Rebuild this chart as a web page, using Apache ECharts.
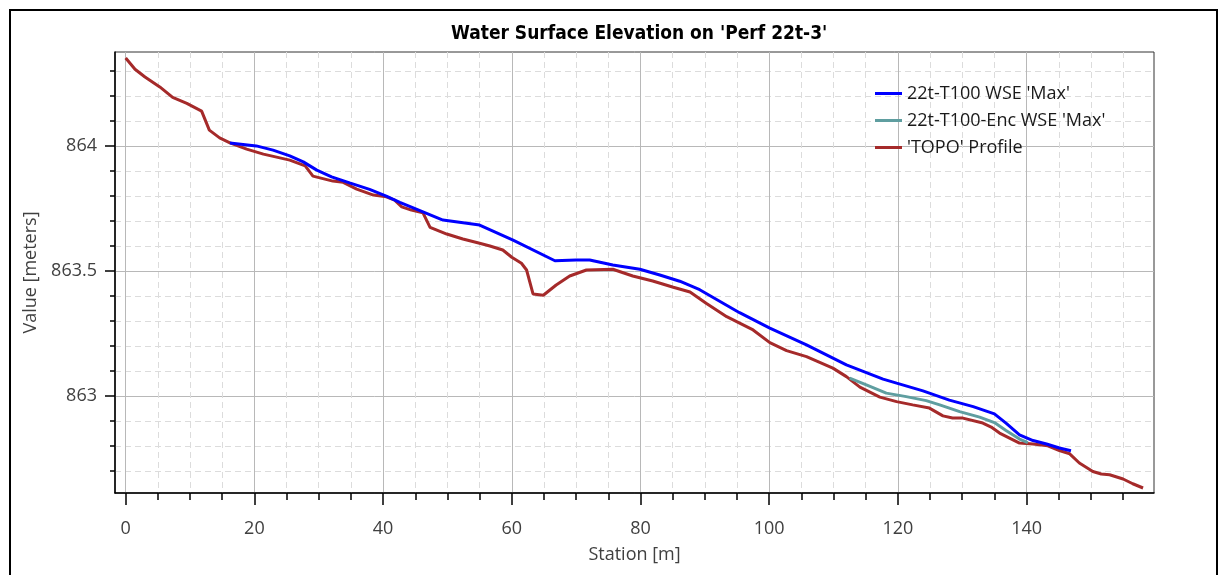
<!DOCTYPE html>
<html>
<head>
<meta charset="utf-8">
<script src="https://cdn.jsdelivr.net/npm/echarts@6/dist/echarts.min.js"></script>
<style>
html,body{margin:0;padding:0;background:#fff;}
#chart{width:1222px;height:575px;}
</style>
</head>
<body>
<div id="chart"></div>
<script>
// ---- Data ----
const topoStation = [0, 1.45, 3.0, 5.3, 7.3, 9.5, 11.8, 13.0, 14.6, 16.2, 18.8, 21.4, 25.5, 27.9, 29.1, 32.2, 33.8, 35.9, 38.5, 40.5, 41.8, 42.9, 44.4, 46.2, 47.3, 49.9, 52.4, 55.0, 56.6, 58.6, 60.0, 61.5, 62.3, 63.3, 64.9, 66.9, 69.0, 71.6, 75.7, 78.8, 81.9, 85.1, 87.7, 90.2, 93.4, 97.5, 100.1, 102.7, 105.8, 109.9, 112.0, 114.1, 117.2, 119.8, 122.3, 124.9, 127.0, 128.5, 130.1, 133.2, 134.5, 135.8, 138.9, 141.0, 143.3, 145.1, 146.7, 148.2, 150.3, 151.6, 152.9, 155.0, 156.5, 158.1];
const topoValue = [864.353, 864.308, 864.277, 864.237, 864.195, 864.171, 864.140, 864.064, 864.033, 864.013, 863.988, 863.968, 863.944, 863.921, 863.880, 863.860, 863.855, 863.828, 863.804, 863.797, 863.784, 863.757, 863.744, 863.733, 863.675, 863.648, 863.628, 863.611, 863.600, 863.584, 863.555, 863.531, 863.504, 863.408, 863.403, 863.444, 863.480, 863.504, 863.507, 863.480, 863.460, 863.435, 863.416, 863.371, 863.317, 863.264, 863.213, 863.181, 863.157, 863.111, 863.077, 863.035, 862.995, 862.977, 862.964, 862.951, 862.920, 862.911, 862.911, 862.891, 862.875, 862.851, 862.811, 862.807, 862.800, 862.781, 862.768, 862.731, 862.697, 862.687, 862.684, 862.667, 862.648, 862.631];

const wseStation = [16.2, 20.3, 22.9, 25.5, 27.6, 29.7, 32.0, 34.8, 37.9, 40.5, 42.6, 44.5, 49.3, 55.0, 60.2, 66.7, 70.0, 72.1, 75.7, 79.9, 83.0, 86.1, 89.2, 95.4, 100.1, 105.8, 112.0, 117.7, 119.8, 123.9, 128.0, 131.7, 135.0, 136.8, 138.9, 141.0, 143.1, 145.1, 146.9];
const wseValue = [864.013, 864.001, 863.984, 863.961, 863.937, 863.904, 863.877, 863.853, 863.827, 863.800, 863.775, 863.755, 863.704, 863.684, 863.624, 863.541, 863.544, 863.544, 863.524, 863.507, 863.484, 863.459, 863.425, 863.333, 863.271, 863.204, 863.124, 863.067, 863.051, 863.020, 862.983, 862.957, 862.928, 862.891, 862.844, 862.821, 862.807, 862.791, 862.780];

const encStation = [112.5, 115.1, 118.2, 121.3, 124.4, 126.5, 129.6, 132.7, 135.0, 136.8, 138.9, 140.2];
const encValue = [863.071, 863.044, 863.011, 862.997, 862.981, 862.964, 862.937, 862.915, 862.893, 862.861, 862.827, 862.813];

const xTicks = [0, 20, 40, 60, 80, 100, 120, 140];
const yTicks = [863, 863.5, 864];

const seriesNames = ["22t-T100 WSE 'Max'", "22t-T100-Enc WSE 'Max'", "'TOPO' Profile"];
const titleText = "Water Surface Elevation on 'Perf 22t-3'";
const xName = 'Station [m]';
const yName = 'Value [meters]';

function pairs(xs, ys) { return xs.map((x, i) => [x, ys[i]]); }

const labelFont = "'Open Sans', 'Noto Sans', sans-serif";
const chart = echarts.init(document.getElementById('chart'), null, { renderer: 'canvas' });

chart.setOption({
  animation: false,
  backgroundColor: '#ffffff',
  title: {
    text: titleText,
    left: 446,
    top: 20,
    textStyle: { fontFamily: "'DejaVu Sans Condensed', 'Liberation Sans Narrow', sans-serif", fontWeight: 'bold', fontSize: 19, color: '#000' }
  },
  graphic: [{
    type: 'rect', silent: true, z: 100,
    shape: { x: 10, y: 10, width: 1207, height: 620 },
    style: { fill: 'none', stroke: '#000', lineWidth: 2 }
  }],
  legend: {
    orient: 'vertical',
    left: 870,
    top: 78,
    itemWidth: 27,
    itemHeight: 3,
    itemGap: 6,
    icon: 'rect',
    data: seriesNames,
    textStyle: { fontFamily: labelFont, fontSize: 18, color: '#1a1a1a', lineHeight: 21, padding: [0, 0, 0, 0] }
  },
  grid: {
    left: 115, right: 68, top: 52, bottom: 82,
    show: true, borderColor: '#333', borderWidth: 1, backgroundColor: 'transparent'
  },
  xAxis: {
    type: 'value',
    min: -1.66, max: 159.8,
    splitNumber: 8, minInterval: 20, maxInterval: 20,
    name: xName, nameLocation: 'middle', nameGap: 53,
    nameTextStyle: { fontFamily: labelFont, fontSize: 18, color: '#404040' },
    axisLine: { onZero: false, lineStyle: { color: '#000', width: 1.5 } },
    axisTick: { show: true, length: 12, lineStyle: { color: '#000', width: 1.5 }, customValues: xTicks },
    minorTick: { show: true, splitNumber: 4, length: 7, lineStyle: { color: '#000', width: 1.5 } },
    axisLabel: { customValues: xTicks, margin: 27, fontFamily: labelFont, fontSize: 18, color: '#404040',
      formatter: v => String(v) },
    splitLine: { show: true, lineStyle: { color: '#b8b8b8', width: 1 } },
    minorSplitLine: { show: true, lineStyle: { color: '#dcdcdc', width: 1, type: [6, 4] } }
  },
  yAxis: {
    type: 'value',
    min: 862.611, max: 864.377,
    splitNumber: 4, minInterval: 0.5, maxInterval: 0.5,
    name: yName, nameLocation: 'middle', nameGap: 60,
    nameTextStyle: { fontFamily: labelFont, fontSize: 18, color: '#404040' },
    axisLine: { onZero: false, lineStyle: { color: '#000', width: 1.5 } },
    axisTick: { show: true, length: 10, lineStyle: { color: '#000', width: 1.5 }, customValues: yTicks },
    minorTick: { show: true, splitNumber: 5, length: 5, lineStyle: { color: '#000', width: 1.5 } },
    axisLabel: { customValues: yTicks, margin: 18, fontFamily: labelFont, fontSize: 18, color: '#404040',
      formatter: v => String(v) },
    splitLine: { show: true, lineStyle: { color: '#b8b8b8', width: 1 } },
    minorSplitLine: { show: true, lineStyle: { color: '#dcdcdc', width: 1, type: [6, 4] } }
  },
  series: [
    { name: seriesNames[2], type: 'line', data: pairs(topoStation, topoValue), showSymbol: false, symbol: 'none',
      lineStyle: { color: '#a52a2a', width: 3 }, itemStyle: { color: '#a52a2a' }, z: 2 },
    { name: seriesNames[1], type: 'line', data: pairs(encStation, encValue), showSymbol: false, symbol: 'none',
      lineStyle: { color: '#5f9ea0', width: 3 }, itemStyle: { color: '#5f9ea0' }, z: 3 },
    { name: seriesNames[0], type: 'line', data: pairs(wseStation, wseValue), showSymbol: false, symbol: 'none',
      lineStyle: { color: '#0000ff', width: 3 }, itemStyle: { color: '#0000ff' }, z: 4 }
  ]
});
</script>
</body>
</html>
